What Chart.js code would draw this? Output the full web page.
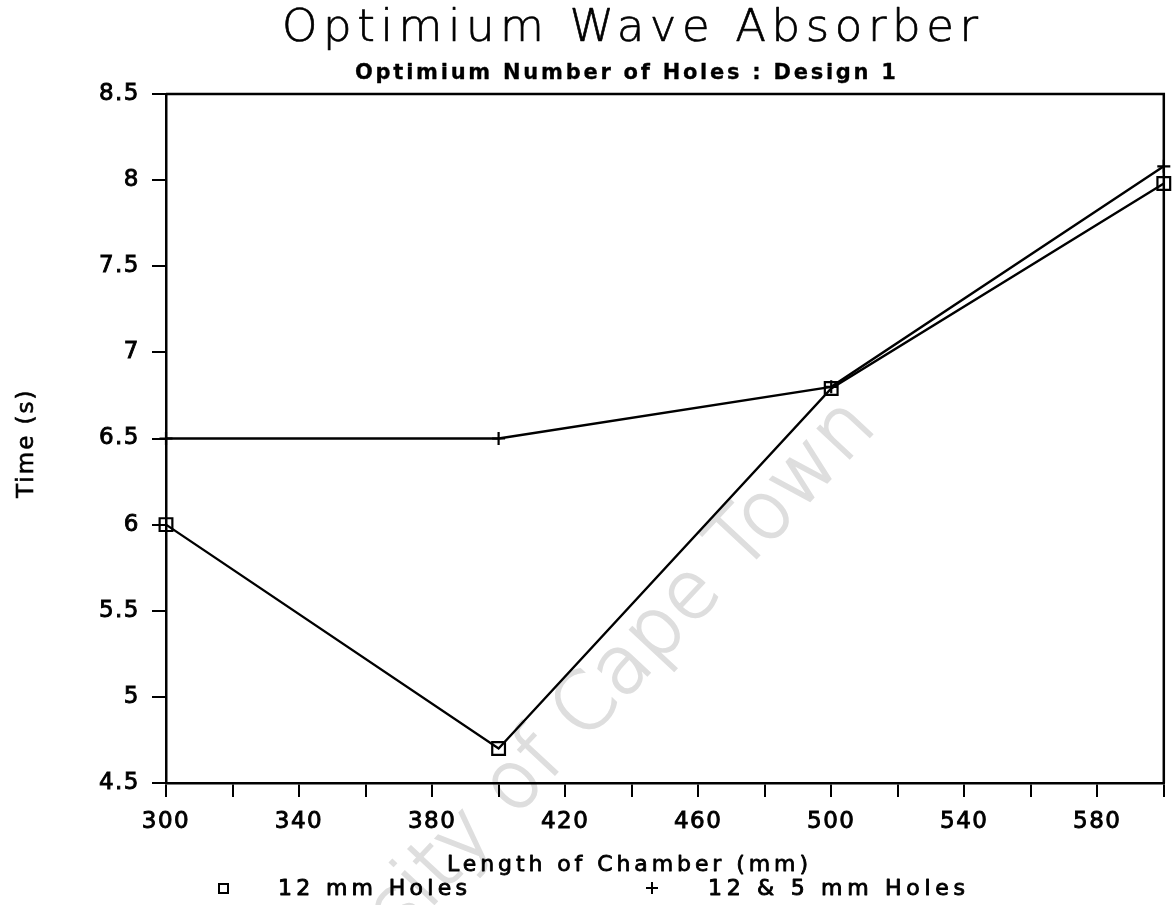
<!DOCTYPE html>
<html>
<head>
<meta charset="utf-8">
<script src="https://cdn.jsdelivr.net/npm/chart.js@4.4.1/dist/chart.umd.min.js"></script>
<style>
  html, body { margin: 0; padding: 0; background: #fff; }
  canvas { display: block; }
</style>
</head>
<body>
<canvas id="chart" width="1175" height="905"></canvas>
<script>
// Chamber lengths (mm) and measured times (s)
const chamberLengths = [300, 400, 500, 600];
const holes12 = [6.0, 4.7, 6.79, 7.98];
const holes12and5 = [6.5, 6.5, 6.8, 8.08];

// Labelled ticks
const xTickLabels = [300, 340, 380, 420, 460, 500, 540, 580];
const yTickLabels = [4.5, 5, 5.5, 6, 6.5, 7, 7.5, 8, 8.5];

// Texts
const titleText = 'Optimium Wave Absorber';
const subtitleText = 'Optimium Number of Holes : Design 1';
const xAxisTitle = 'Length of Chamber (mm)';
const yAxisTitle = 'Time (s)';
const seriesNames = ['12 mm Holes', '12 & 5 mm Holes'];
const watermarkText = 'University of Cape Town';

const FONT = 'DejaVu Sans';

const toPoints = ys => chamberLengths.map((x, i) => ({ x: x, y: ys[i] }));

// Draws text starting at x, spread so that it spans the given width;
// an optional outline thickens the strokes a little
function spacedText(ctx, text, x, y, font, width, outline) {
  ctx.save();
  ctx.font = font;
  ctx.letterSpacing = '0px';
  const w = ctx.measureText(text).width;
  const n = [...text].length;
  const sp = n > 1 ? (width - w) / (n - 1) : 0;
  ctx.letterSpacing = sp.toFixed(2) + 'px';
  ctx.textAlign = 'left';
  ctx.textBaseline = 'alphabetic';
  ctx.fillStyle = '#000';
  ctx.fillText(text, x, y);
  if (outline) {
    ctx.strokeStyle = '#000';
    ctx.lineWidth = outline;
    ctx.lineJoin = 'round';
    ctx.strokeText(text, x, y);
  }
  ctx.restore();
}

const decorations = {
  id: 'decorations',
  beforeDraw(chart) {
    const ctx = chart.ctx;
    // faint diagonal watermark behind everything
    ctx.save();
    ctx.translate(878, 428);
    ctx.rotate(-47 * Math.PI / 180);
    ctx.font = '200 80px "DejaVu Sans"';
    ctx.fillStyle = '#dedede';
    ctx.strokeStyle = '#dedede';
    ctx.lineWidth = 2;
    ctx.textAlign = 'right';
    ctx.textBaseline = 'alphabetic';
    ctx.fillText(watermarkText, 0, 0);
    ctx.strokeText(watermarkText, 0, 0);
    ctx.restore();
    // wide tracking for the tick labels
    ctx.letterSpacing = '1.5px';
  },
  afterDraw(chart) {
    const ctx = chart.ctx;
    ctx.letterSpacing = '0px';
    const a = chart.chartArea;

    // frame: top and right edges
    ctx.save();
    ctx.strokeStyle = '#000';
    ctx.lineWidth = 2.5;
    ctx.beginPath();
    ctx.moveTo(a.left, a.top);
    ctx.lineTo(a.right, a.top);
    ctx.lineTo(a.right, a.bottom);
    ctx.stroke();
    ctx.restore();

    // titles
    spacedText(ctx, titleText, 282, 41, '200 45px "' + FONT + '"', 696, 0.7);
    spacedText(ctx, subtitleText, 355, 79, 'bold 21px "' + FONT + '"', 541, 0.3);

    // x axis title
    spacedText(ctx, xAxisTitle, 447, 871, '22px "' + FONT + '"', 361, 0.8);

    // y axis title
    ctx.save();
    ctx.translate(33, 498);
    ctx.rotate(-Math.PI / 2);
    ctx.font = '23px "' + FONT + '"';
    ctx.fillStyle = '#000';
    ctx.strokeStyle = '#000';
    ctx.lineWidth = 0.6;
    ctx.textAlign = 'left';
    ctx.textBaseline = 'alphabetic';
    ctx.letterSpacing = '2px';
    ctx.fillText(yAxisTitle, 0, 0);
    ctx.strokeText(yAxisTitle, 0, 0);
    ctx.restore();

    // legend
    ctx.save();
    ctx.strokeStyle = '#000';
    ctx.lineWidth = 2;
    ctx.strokeRect(219, 884, 9, 9);
    ctx.beginPath();
    ctx.moveTo(646, 888); ctx.lineTo(658, 888);
    ctx.moveTo(652, 882); ctx.lineTo(652, 894);
    ctx.stroke();
    ctx.restore();
    spacedText(ctx, seriesNames[0], 278, 895, '22px "' + FONT + '"', 189, 0.9);
    spacedText(ctx, seriesNames[1], 708, 895, '22px "' + FONT + '"', 257, 0.9);
  }
};

const tickFont = { family: FONT, size: 23 };

new Chart(document.getElementById('chart'), {
  type: 'line',
  data: {
    datasets: [
      {
        label: seriesNames[0],
        data: toPoints(holes12),
        borderColor: '#000',
        borderWidth: 2.4,
        pointStyle: 'rect',
        pointRadius: 9,
        pointBorderWidth: 2.2,
        pointBorderColor: '#000',
        pointBackgroundColor: 'rgba(0,0,0,0)',
        tension: 0,
        fill: false,
        clip: false
      },
      {
        label: seriesNames[1],
        data: toPoints(holes12and5),
        borderColor: '#000',
        borderWidth: 2.4,
        pointStyle: 'cross',
        pointRadius: 6.5,
        pointBorderWidth: 2.2,
        pointBorderColor: '#000',
        pointBackgroundColor: 'rgba(0,0,0,0)',
        tension: 0,
        fill: false,
        clip: false
      }
    ]
  },
  options: {
    responsive: false,
    animation: false,
    devicePixelRatio: 1,
    layout: { padding: { left: 0, right: 10, top: 94, bottom: 0 } },
    plugins: {
      legend: { display: false },
      title: { display: false },
      tooltip: { enabled: false }
    },
    scales: {
      x: {
        type: 'linear',
        min: 300,
        max: 600,
        border: { color: '#000', width: 2.5 },
        grid: { drawOnChartArea: false, drawTicks: true, tickLength: 14, color: '#000', lineWidth: 2 },
        ticks: {
          stepSize: 20,
          autoSkip: false,
          maxRotation: 0,
          padding: 11,
          color: '#000',
          textStrokeColor: '#000',
          textStrokeWidth: 0.9,
          font: tickFont,
          callback: v => (xTickLabels.includes(v) ? String(v) : '')
        },
        afterFit: s => { s.height = 122; s.paddingLeft = 0; s.paddingRight = 0; }
      },
      y: {
        min: 4.5,
        max: 8.5,
        border: { color: '#000', width: 2.5 },
        grid: { drawOnChartArea: false, drawTicks: true, tickLength: 14, color: '#000', lineWidth: 2 },
        ticks: {
          stepSize: 0.5,
          autoSkip: false,
          padding: 12,
          color: '#000',
          textStrokeColor: '#000',
          textStrokeWidth: 0.9,
          font: tickFont,
          callback: v => (yTickLabels.includes(v) ? String(v) : '')
        },
        afterFit: s => { s.width = 166; s.paddingTop = 0; s.paddingBottom = 0; }
      }
    }
  },
  plugins: [decorations]
});
</script>
</body>
</html>
